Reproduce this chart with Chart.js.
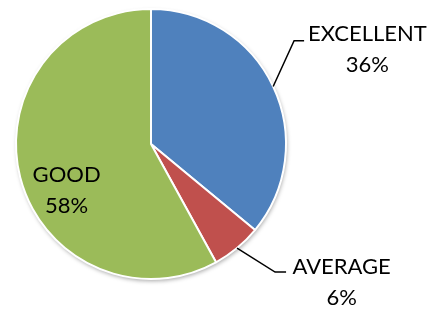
<!DOCTYPE html>
<html lang="en">
<head>
    <meta charset="UTF-8">
    <title>Rating pie</title>
    <style>
        html, body { margin: 0; padding: 0; background: #fff; }
        #wrap { width: 432px; height: 311px; }
    </style>
    <script src="https://cdn.jsdelivr.net/npm/chart.js"></script>
</head>
<body>
    <div id="wrap"><canvas id="pie"></canvas></div>

    <script>
        // data
        const categories = ['EXCELLENT', 'AVERAGE', 'GOOD'];
        const percents = [36, 6, 58];
        const colors = ['#4F81BD', '#C0504D', '#9BBB59'];

        const labelFont = '22px Lato';
        const lineGap = 15.5;

        // where each label sits, in radius units from the pie centre
        // leader: elbow point + horizontal run; text: centre of the two lines
        const labelSpots = [
            { leader: true, elbow: [1.06, -0.765], run: 10, text: [1.603, -0.70] },
            { leader: true, elbow: [0.919, 0.949], run: 11, text: [1.412, 1.022] },
            { leader: false, text: [-0.625, 0.342] }
        ];

        // soft shadow under the pie
        const shadowPlugin = {
            id: 'pieShadow',
            beforeDatasetsDraw(chart) {
                const arc = chart.getDatasetMeta(0).data[0];
                const ctx = chart.ctx;
                ctx.save();
                ctx.shadowColor = 'rgba(0,0,0,0.35)';
                ctx.shadowBlur = 4;
                ctx.shadowOffsetX = 1;
                ctx.shadowOffsetY = 2;
                ctx.fillStyle = '#fff';
                ctx.beginPath();
                ctx.arc(arc.x, arc.y, arc.outerRadius, 0, Math.PI * 2);
                ctx.fill();
                ctx.restore();
            }
        };

        // category + percent labels with leader lines
        const labelPlugin = {
            id: 'pieLabels',
            afterDatasetsDraw(chart) {
                const ctx = chart.ctx;
                const arcs = chart.getDatasetMeta(0).data;
                ctx.save();
                arcs.forEach((arc, i) => {
                    const r = arc.outerRadius;
                    const spot = labelSpots[i];
                    if (spot.leader) {
                        const mid = (arc.startAngle + arc.endAngle) / 2;
                        const sx = arc.x + Math.cos(mid) * r;
                        const sy = arc.y + Math.sin(mid) * r;
                        const ex = arc.x + spot.elbow[0] * r;
                        const ey = arc.y + spot.elbow[1] * r;
                        ctx.strokeStyle = '#000';
                        ctx.lineWidth = 1.5;
                        ctx.beginPath();
                        ctx.moveTo(sx, sy);
                        ctx.lineTo(ex, ey);
                        ctx.lineTo(ex + spot.run, ey);
                        ctx.stroke();
                    }
                    const tx = arc.x + spot.text[0] * r;
                    const ty = arc.y + spot.text[1] * r;
                    ctx.fillStyle = '#000';
                    ctx.font = labelFont;
                    ctx.textAlign = 'center';
                    ctx.textBaseline = 'middle';
                    ctx.fillText(categories[i], tx, ty - lineGap);
                    ctx.fillText(percents[i] + '%', tx, ty + lineGap);
                });
                ctx.restore();
            }
        };

        new Chart(document.getElementById('pie').getContext('2d'), {
            type: 'pie',
            data: {
                labels: categories,
                datasets: [{
                    data: percents,
                    backgroundColor: colors,
                    borderColor: '#fff',
                    borderWidth: 2
                }]
            },
            options: {
                responsive: true,
                maintainAspectRatio: false,
                animation: false,
                layout: { padding: { left: 15, right: 145, top: 8, bottom: 31 } },
                plugins: {
                    legend: { display: false },
                    tooltip: { enabled: false }
                }
            },
            plugins: [shadowPlugin, labelPlugin]
        });
    </script>
</body>
</html>
